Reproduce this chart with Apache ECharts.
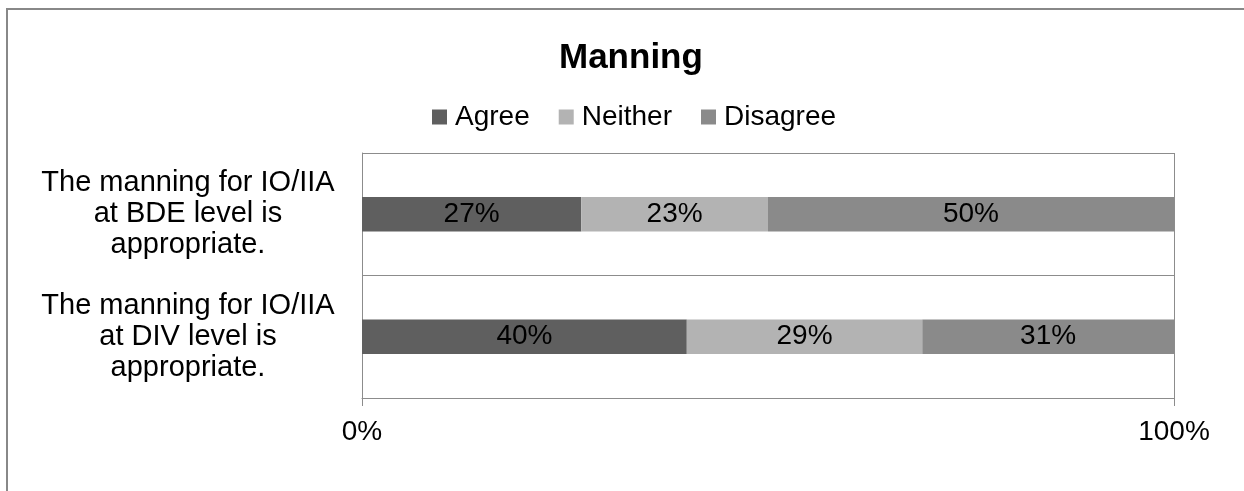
<!DOCTYPE html>
<html>
<head>
<meta charset="utf-8">
<script src="https://cdn.jsdelivr.net/npm/echarts@6/dist/echarts.min.js"></script>
<style>
html,body{margin:0;padding:0;background:#fff;}
#chart{width:1244px;height:491px;}
</style>
</head>
<body>
<div id="chart"></div>
<script>
const titleText = 'Manning';
const categories = [
  'The manning for IO/IIA\nat BDE level is\nappropriate.',
  'The manning for IO/IIA\nat DIV level is\nappropriate.'
];
const seriesNames = ['Agree', 'Neither', 'Disagree'];
const agree = [27, 40];
const neither = [23, 29];
const disagree = [50, 31];
const colors = ['#5f5f5f', '#b3b3b3', '#8a8a8a'];

const FONT = '"Liberation Sans", Arial, sans-serif';
const chart = echarts.init(document.getElementById('chart'), null, {renderer: 'canvas'});
const values = [agree, neither, disagree];

chart.setOption({
  animation: false,
  backgroundColor: '#fff',
  textStyle: {fontFamily: FONT},
  graphic: [{
    type: 'rect',
    shape: {x: 7, y: 9, width: 1400, height: 700},
    style: {fill: 'none', stroke: '#888', lineWidth: 2},
    silent: true, z: -10
  }],
  title: {
    text: titleText,
    left: 554,
    top: 36,
    textStyle: {fontFamily: FONT, fontSize: 35, fontWeight: 'bold', color: '#000'}
  },
  legend: {
    data: seriesNames,
    left: 427,
    top: 98,
    itemWidth: 15,
    itemHeight: 15,
    itemGap: 29,
    icon: 'rect',
    textStyle: {fontFamily: FONT, fontSize: 28, color: '#000', padding: [0, 0, 0, 3]}
  },
  grid: {left: 362, top: 153, right: 70, bottom: 93, containLabel: false},
  xAxis: {
    type: 'value',
    min: 0, max: 100, interval: 100,
    axisLine: {show: true, lineStyle: {color: '#8c8c8c', width: 1}},
    axisTick: {show: true, length: 8, lineStyle: {color: '#8c8c8c'}},
    splitLine: {show: true, lineStyle: {color: '#8c8c8c', width: 1}},
    axisLabel: {formatter: '{value}%', fontFamily: FONT, fontSize: 28, color: '#000', margin: 20}
  },
  yAxis: {
    type: 'category',
    inverse: true,
    data: categories,
    axisLine: {show: true, lineStyle: {color: '#8c8c8c', width: 1}},
    axisTick: {show: false},
    splitLine: {show: true, lineStyle: {color: '#8c8c8c', width: 1}},
    axisLabel: {
      fontFamily: FONT, fontSize: 29, color: '#000',
      align: 'center', lineHeight: 31, margin: 174
    }
  },
  series: seriesNames.map((name, i) => ({
    name: name,
    type: 'bar',
    stack: 'total',
    barWidth: '28%',
    itemStyle: {color: colors[i]},
    label: {
      show: true, position: 'inside', formatter: '{c}%',
      fontFamily: FONT, fontSize: 28, color: '#000'
    },
    data: values[i]
  }))
});
</script>
</body>
</html>
